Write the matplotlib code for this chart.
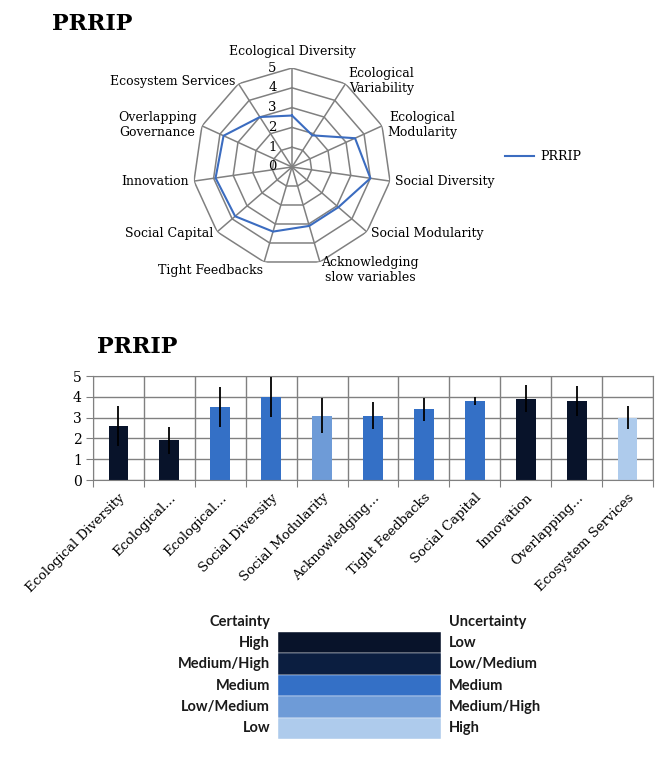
import numpy as np
import matplotlib.pyplot as plt

categories = ["Ecological Diversity", "Ecological Variability", "Ecological Modularity",
              "Social Diversity", "Social Modularity", "Acknowledging slow variables",
              "Tight Feedbacks", "Social Capital", "Innovation", "Overlapping Governance",
              "Ecosystem Services"]
radar_labels = ["Ecological Diversity", "Ecological\nVariability", "Ecological\nModularity",
                "Social Diversity", "Social Modularity", "Acknowledging\nslow variables",
                "Tight Feedbacks", "Social Capital", "Innovation", "Overlapping\nGovernance",
                "Ecosystem Services"]
bar_labels = ["Ecological Diversity", "Ecological\u2026", "Ecological\u2026", "Social Diversity",
              "Social Modularity", "Acknowledging\u2026", "Tight Feedbacks", "Social Capital",
              "Innovation", "Overlapping\u2026", "Ecosystem Services"]
values = [2.6, 1.9, 3.5, 4.0, 3.1, 3.1, 3.4, 3.8, 3.9, 3.8, 3.0]
errors = [0.95, 0.65, 0.95, 0.95, 0.85, 0.65, 0.55, 0.2, 0.65, 0.7, 0.55]
certainty = ["High", "High", "Medium", "Medium", "Low/Medium", "Medium", "Medium",
             "Medium", "High", "High", "Low"]

levels = ["High", "Medium/High", "Medium", "Low/Medium", "Low"]
uncert = ["Low", "Low/Medium", "Medium", "Medium/High", "High"]
level_colors = {"High": "#08132a", "Medium/High": "#0b1e40", "Medium": "#3470c6",
                "Low/Medium": "#6e9bd7", "Low": "#aecbec"}

serif = "DejaVu Serif"
grey = "#808080"
W, H = 656, 760
fig = plt.figure(figsize=(W / 100, H / 100), dpi=100)

# ---- radar chart ----
fig.text(52 / W, 1 - 24 / H, "PRRIP", fontsize=16, fontweight="bold", family=serif,
         va="center", ha="left")
cx, cy, r = 292, 167, 99
ax = fig.add_axes([(cx - r) / W, 1 - (cy + r) / H, 2 * r / W, 2 * r / H], projection="polar")
ax.set_theta_zero_location("N")
ax.set_theta_direction(-1)
n = len(categories)
ang = np.arange(n) * 2 * np.pi / n
ang_c = np.append(ang, ang[0])
for k in range(1, 6):
    ax.plot(ang_c, [k] * (n + 1), color=grey, lw=1.1)
for a in ang:
    ax.plot([a, a], [0, 5], color=grey, lw=1.1)
ax.plot(ang_c, values + values[:1], color="#3b6cc0", lw=1.5, label="PRRIP")
ax.set_ylim(0, 5)
ax.set_xticks([])
ax.set_yticks([])
ax.grid(False)
ax.spines["polar"].set_visible(False)
ax.patch.set_visible(False)
for k in range(6):
    ax.annotate(str(k), (0, k), xytext=(-11, 0), textcoords="offset points",
                ha="right", va="center", fontsize=9.5, family=serif)
for a, lab in zip(ang, radar_labels):
    s, c = np.sin(a), np.cos(a)
    ha = "left" if s > 0.1 else ("right" if s < -0.1 else "center")
    va = "bottom" if c > 0.9 else "center"
    dy = -4 if c < -0.9 else (5 if c > 0.9 else 0)
    ax.annotate(lab, (a, 5), xytext=(4 * s, 2 * c + dy), textcoords="offset points",
                ha=ha, va=va, fontsize=9, family=serif, multialignment="center",
                annotation_clip=False)
ax.legend(loc="center left", bbox_to_anchor=((505 - cx + r) / (2 * r), (cy + r - 157) / (2 * r)),
          frameon=False, prop={"family": serif, "size": 9}, handlelength=2.3,
          borderaxespad=0, borderpad=0, handletextpad=0.5)

# ---- bar chart ----
fig.text(97 / W, 1 - 347 / H, "PRRIP", fontsize=16, fontweight="bold", family=serif,
         va="center", ha="left")
bx = fig.add_axes([93 / W, 1 - 480 / H, 560 / W, 104 / H])
x = np.arange(n)
bx.bar(x, values, width=0.39, color=[level_colors[c] for c in certainty], zorder=2)
bx.errorbar(x, values, yerr=errors, fmt="none", ecolor="black", elinewidth=1.3, zorder=3)
bx.set_xlim(-0.5, n - 0.5)
bx.set_ylim(0, 5)
bx.set_yticks(range(6))
bx.set_xticks(np.arange(n + 1) - 0.5)
bx.set_xticklabels([])
bx.set_xticks(x, minor=True)
bx.set_xticklabels(bar_labels, minor=True, rotation=45, ha="right", rotation_mode="anchor",
                   fontsize=9.5, family=serif)
bx.tick_params(axis="x", which="minor", length=0, pad=8)
bx.tick_params(axis="x", which="major", length=5, color=grey)
bx.tick_params(axis="y", length=5, color=grey, labelsize=10, pad=3)
for t in bx.get_yticklabels():
    t.set_family(serif)
bx.grid(True, which="major", color=grey, lw=1, zorder=0)
bx.set_axisbelow(True)
for sp in bx.spines.values():
    sp.set_color(grey)

# ---- certainty key ----
kx = fig.add_axes([278 / W, 1 - 739 / H, 163 / W, 107 / H])
for i, lv in enumerate(levels):
    kx.barh(i, 1, height=1, left=0, color=level_colors[lv], edgecolor="white", lw=0.3)
kx.set_xlim(0, 1)
kx.set_ylim(len(levels) - 0.5, -0.5)
kx.axis("off")
fs = 10.5
fig.text(270 / W, 1 - 622 / H, "Certainty", ha="right", va="center", fontsize=fs,
         family="Lato", fontweight="bold", color="#1a1a1a")
fig.text(449 / W, 1 - 622 / H, "Uncertainty", ha="left", va="center", fontsize=fs,
         family="Lato", fontweight="bold", color="#1a1a1a")
for i, (lv, uc) in enumerate(zip(levels, uncert)):
    yy = 1 - (643 + i * 21.3) / H
    fig.text(270 / W, yy, lv, ha="right", va="center", fontsize=fs, family="Lato",
             fontweight="bold", color="#1a1a1a")
    fig.text(449 / W, yy, uc, ha="left", va="center", fontsize=fs, family="Lato",
             fontweight="bold", color="#1a1a1a")

fig.savefig("out.png", dpi=100)
